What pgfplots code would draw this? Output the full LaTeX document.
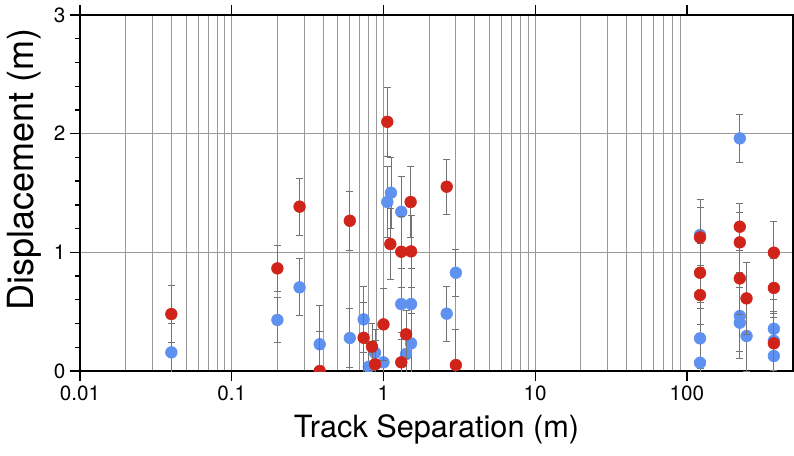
\documentclass[border=0pt]{standalone}
\usepackage{fontspec}
\setmainfont{TeX Gyre Heros}
\usepackage{pgfplots}
\usepackage{pgfplotstable}
\pgfplotsset{compat=1.18}
\definecolor{ptred}{RGB}{208,35,25}
\definecolor{ptblue}{RGB}{95,145,240}

% x = track separation (m), y = displacement (m), e = 1-sigma
\pgfplotstableread{
x     y      e
0.04  0.157  0.24
0.2   0.43   0.19
0.28  0.705  0.24
0.38  0.225  0.33
0.6   0.278  0.25
0.74  0.435  0.275
0.80  0.036  0.2
0.88  0.154  0.2
1.0   0.073  0.3
1.06  1.424  0.3
1.12  1.502  0.3
1.31  1.342  0.3
1.31  0.564  0.3
1.41  0.143  0.2
1.52  0.564  0.3
1.52  0.233  0.25
2.61  0.483  0.23
3.0   0.828  0.2
122   1.146  0.3
122   0.275  0.25
122   0.07   0.25
223   1.96   0.2
223   0.463  0.3
223   0.407  0.3
247   0.295  0.3
374   0.356  0.25
374   0.255  0.25
374   0.126  0.25
}\bluepts

\pgfplotstableread{
x     y      e
0.04  0.48   0.24
0.2   0.865  0.195
0.28  1.385  0.24
0.38  0.0    0.33
0.6   1.266  0.25
0.74  0.28   0.3
0.84  0.205  0.2
0.88  0.056  0.2
1.0   0.393  0.3
1.06  2.10   0.29
1.11  1.07   0.3
1.31  1.005  0.3
1.31  0.073  0.25
1.41  0.309  0.2
1.51  1.424  0.3
1.52  1.008  0.3
2.61  1.553  0.23
3.0   0.05   0.3
122   1.126  0.25
122   0.828  0.25
122   0.64   0.25
223   1.216  0.2
223   1.084  0.25
223   0.78   0.3
247   0.612  0.3
374   0.997  0.26
374   0.70   0.25
374   0.233  0.25
}\redpts

\begin{document}
\begin{tikzpicture}
\path[use as bounding box] (-60pt,-63pt) rectangle (535.5pt,278.25pt);
\begin{semilogxaxis}[
  at={(0,0)}, anchor=south west,
  scale only axis, width=534.75pt, height=267pt,
  xmin=0.01, xmax=500, ymin=0, ymax=3,
  xtick={0.01,0.1,1,10,100}, xticklabels={0.01,0.1,1,10,100},
  ytick={0,1,2,3},
  extra y ticks={0.2,0.4,0.6,0.8,1.2,1.4,1.6,1.8,2.2,2.4,2.6,2.8},
  extra y tick labels={},
  extra y tick style={major tick length=3.75pt, grid=none},
  xtick pos=both, ytick pos=left, tick align=outside,
  major tick length=7.5pt, minor tick length=0pt,
  tick style={black, line width=1pt},
  axis line style={black, line width=1.7pt},
  xminorgrids, ymajorgrids,
  minor grid style={black!40, line width=0.7pt},
  major grid style={black!40, line width=0.7pt},
  tick label style={font=\fontsize{15.5}{15.5}\selectfont},
  /pgf/number format/assume math mode=true,
  xlabel={Track Separation (m)},
  ylabel={Displacement (m)},
  xlabel style={at={(axis description cs:0.5,-0.1854)}, anchor=base,
    font=\fontsize{23}{23}\selectfont},
  ylabel style={at={(axis description cs:-0.0654,0.565)}, anchor=base,
    font=\fontsize{27}{27}\selectfont},
  clip marker paths=true,
  error bars/error bar style={black!55, line width=0.6pt},
  error bars/error mark options={black!55, line width=0.6pt, mark size=2.6pt, rotate=90},
]
\addplot[ptblue, only marks, mark=*, mark size=4.4pt, mark options={draw=ptblue, fill=ptblue},
  error bars/.cd, y dir=both, y explicit]
  table[x=x, y=y, y error=e] {\bluepts};
\addplot[ptred, only marks, mark=*, mark size=4.4pt, mark options={draw=ptred, fill=ptred},
  error bars/.cd, y dir=both, y explicit]
  table[x=x, y=y, y error=e] {\redpts};
\end{semilogxaxis}
\end{tikzpicture}
\end{document}
